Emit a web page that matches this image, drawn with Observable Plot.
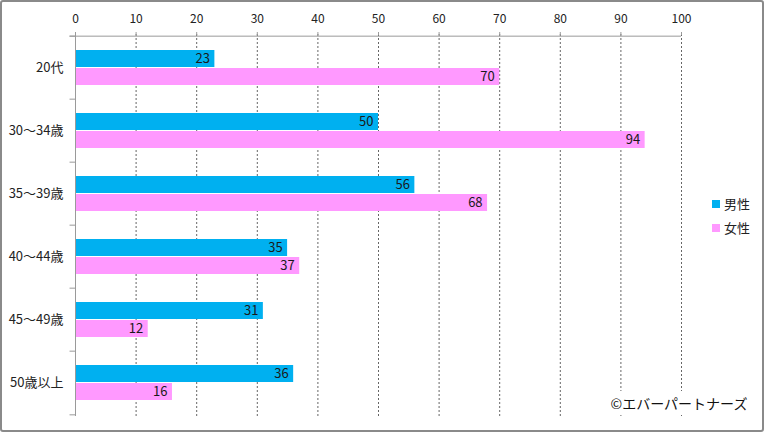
<!DOCTYPE html>
<html>
<head>
<meta charset="utf-8">
<script src="https://cdn.jsdelivr.net/npm/d3@7"></script>
<script src="https://cdn.jsdelivr.net/npm/@observablehq/plot@0.6"></script>
<style>
  html, body { margin: 0; padding: 0; background: #fff; }
  #wrap { position: relative; width: 764px; height: 432px; font-family: "Noto Sans CJK JP", "Noto Sans", sans-serif; color: #222; }
  #border { position: absolute; left: 0; top: 0; width: 764px; height: 432px; box-sizing: border-box; border: 2px solid #8a8a8a; border-radius: 3px; pointer-events: none; }
  #chart { position: absolute; left: 0; top: 0; }
  .leg { position: absolute; left: 712px; font-size: 13px; line-height: 16px; display: flex; align-items: center; }
  .sw { width: 8px; height: 8px; margin-right: 4px; }
  #caption { position: absolute; left: 606px; top: 391px; width: 146px; height: 24px; background: #fff; font-size: 14px; line-height: 24px; text-align: center; color: #111; }
</style>
</head>
<body>
<div id="wrap">
  <div id="chart"></div>
  <div class="leg" style="top:196px"><div class="sw" style="background:#00B0F0"></div><span>男性</span></div>
  <div class="leg" style="top:220px"><div class="sw" style="background:#FF99FF"></div><span>女性</span></div>
  <div id="caption">©エバーパートナーズ</div>
  <div id="border"></div>
</div>
<script>
const categories = ["20代", "30〜34歳", "35〜39歳", "40〜44歳", "45〜49歳", "50歳以上"];
const male = [23, 50, 56, 35, 31, 36];
const female = [70, 94, 68, 37, 12, 16];
const xTicks = [0, 10, 20, 30, 40, 50, 60, 70, 80, 90, 100];

const maleData = categories.map((c, i) => ({cat: c, value: male[i]}));
const femaleData = categories.map((c, i) => ({cat: c, value: female[i]}));

const H = 432, MT = 34, MB = 16;
const bw = (H - MT - MB) / categories.length;
const axisColor = "#9a9a9a";

const chart = Plot.plot({
  width: 764,
  height: H,
  marginLeft: 75,
  marginRight: 83,
  marginTop: MT,
  marginBottom: MB,
  style: {fontFamily: "'Noto Sans CJK JP', 'Noto Sans', sans-serif", fontSize: "12px", color: "#222", background: "transparent"},
  x: {domain: [0, 100], axis: null},
  y: {domain: categories, padding: 0, axis: null},
  marks: [
    Plot.gridX(xTicks.filter(d => d > 0), {stroke: "#666", strokeOpacity: 1, strokeDasharray: "2,2"}),
    Plot.barX(maleData, {x: "value", y: "cat", fill: "#00B0F0", insetTop: 14, insetBottom: 32}),
    Plot.barX(femaleData, {x: "value", y: "cat", fill: "#FF99FF", insetTop: 32, insetBottom: 14}),
    Plot.text(maleData, {x: "value", y: "cat", text: d => String(d.value), textAnchor: "end", dx: -5, dy: -9, fontSize: 13, fill: "#1a1a1a"}),
    Plot.text(femaleData, {x: "value", y: "cat", text: d => String(d.value), textAnchor: "end", dx: -5, dy: 9, fontSize: 13, fill: "#1a1a1a"}),
    // top axis line
    Plot.ruleY([categories[0]], {x1: -0.9, x2: 100, dy: -bw / 2, stroke: axisColor}),
    // left axis line
    Plot.ruleX([0], {stroke: axisColor}),
    // category boundary ticks
    Plot.ruleY(categories, {x1: -0.9, x2: 0, dy: -bw / 2, stroke: axisColor}),
    Plot.ruleY([categories[categories.length - 1]], {x1: -0.9, x2: 0, dy: bw / 2, stroke: axisColor}),
    Plot.axisX({anchor: "top", ticks: xTicks, tickSize: 3, tickPadding: 9, stroke: axisColor, fontSize: 12, tickFormat: d => String(d), label: null}),
    Plot.axisY({anchor: "left", tickSize: 0, tickPadding: 12, fontSize: 13, label: null})
  ]
});
document.getElementById("chart").appendChild(chart);
</script>
</body>
</html>
